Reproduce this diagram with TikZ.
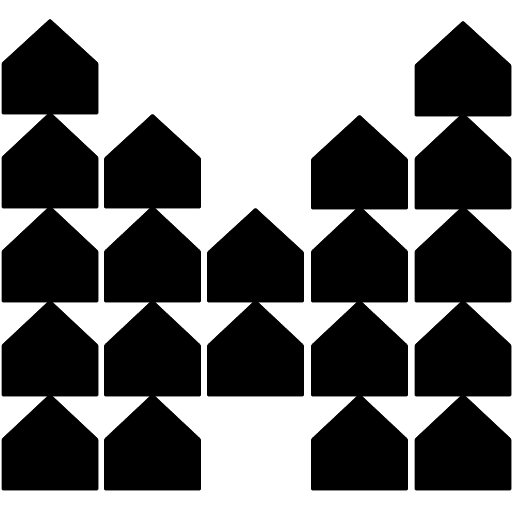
\documentclass[tikz,border=0pt]{standalone}
\begin{document}
\begin{tikzpicture}[x=0.75pt,y=0.75pt,yscale=-1,xscale=1,
  house/.style={fill=black,draw=black,line width=0.4pt,rounded corners=0.6pt}]
\useasboundingbox (0,0) rectangle (512,512);

%Shape: House column 1
\draw [house] (50,19) -- (98,63) -- (98,114) -- (2,114) -- (2,63) -- cycle ;
\draw [house] (50,112) -- (98,157) -- (98,208) -- (2,208) -- (2,157) -- cycle ;
\draw [house] (50,206) -- (98,251) -- (98,302) -- (2,302) -- (2,251) -- cycle ;
\draw [house] (50,300) -- (98,345) -- (98,396) -- (2,396) -- (2,345) -- cycle ;
\draw [house] (50,394) -- (98,439) -- (98,490) -- (2,490) -- (2,439) -- cycle ;

%Shape: House column 2
\draw [house] (152.5,114) -- (200.5,158) -- (200.5,208) -- (104.5,208) -- (104.5,158) -- cycle ;
\draw [house] (152.5,206) -- (200.5,251) -- (200.5,302) -- (104.5,302) -- (104.5,251) -- cycle ;
\draw [house] (152.5,300) -- (200.5,345) -- (200.5,396) -- (104.5,396) -- (104.5,345) -- cycle ;
\draw [house] (152.5,394) -- (200.5,439) -- (200.5,490) -- (104.5,490) -- (104.5,439) -- cycle ;

%Shape: House column 3
\draw [house] (255.5,208) -- (303.5,252) -- (303.5,302) -- (207.5,302) -- (207.5,252) -- cycle ;
\draw [house] (255.5,300) -- (303.5,345) -- (303.5,396) -- (207.5,396) -- (207.5,345) -- cycle ;

%Shape: House column 4
\draw [house] (359.5,115) -- (407.5,159) -- (407.5,209) -- (311.5,209) -- (311.5,159) -- cycle ;
\draw [house] (359.5,206) -- (407.5,251) -- (407.5,302) -- (311.5,302) -- (311.5,251) -- cycle ;
\draw [house] (359.5,300) -- (407.5,345) -- (407.5,396) -- (311.5,396) -- (311.5,345) -- cycle ;
\draw [house] (359.5,394) -- (407.5,439) -- (407.5,490) -- (311.5,490) -- (311.5,439) -- cycle ;

%Shape: House column 5
\draw [house] (463,21) -- (511,65) -- (511,116) -- (415,116) -- (415,65) -- cycle ;
\draw [house] (463,113) -- (511,158) -- (511,209) -- (415,209) -- (415,158) -- cycle ;
\draw [house] (463,206) -- (511,251) -- (511,302) -- (415,302) -- (415,251) -- cycle ;
\draw [house] (463,300) -- (511,345) -- (511,396) -- (415,396) -- (415,345) -- cycle ;
\draw [house] (463,394) -- (511,439) -- (511,490) -- (415,490) -- (415,439) -- cycle ;

\end{tikzpicture}
\end{document}
